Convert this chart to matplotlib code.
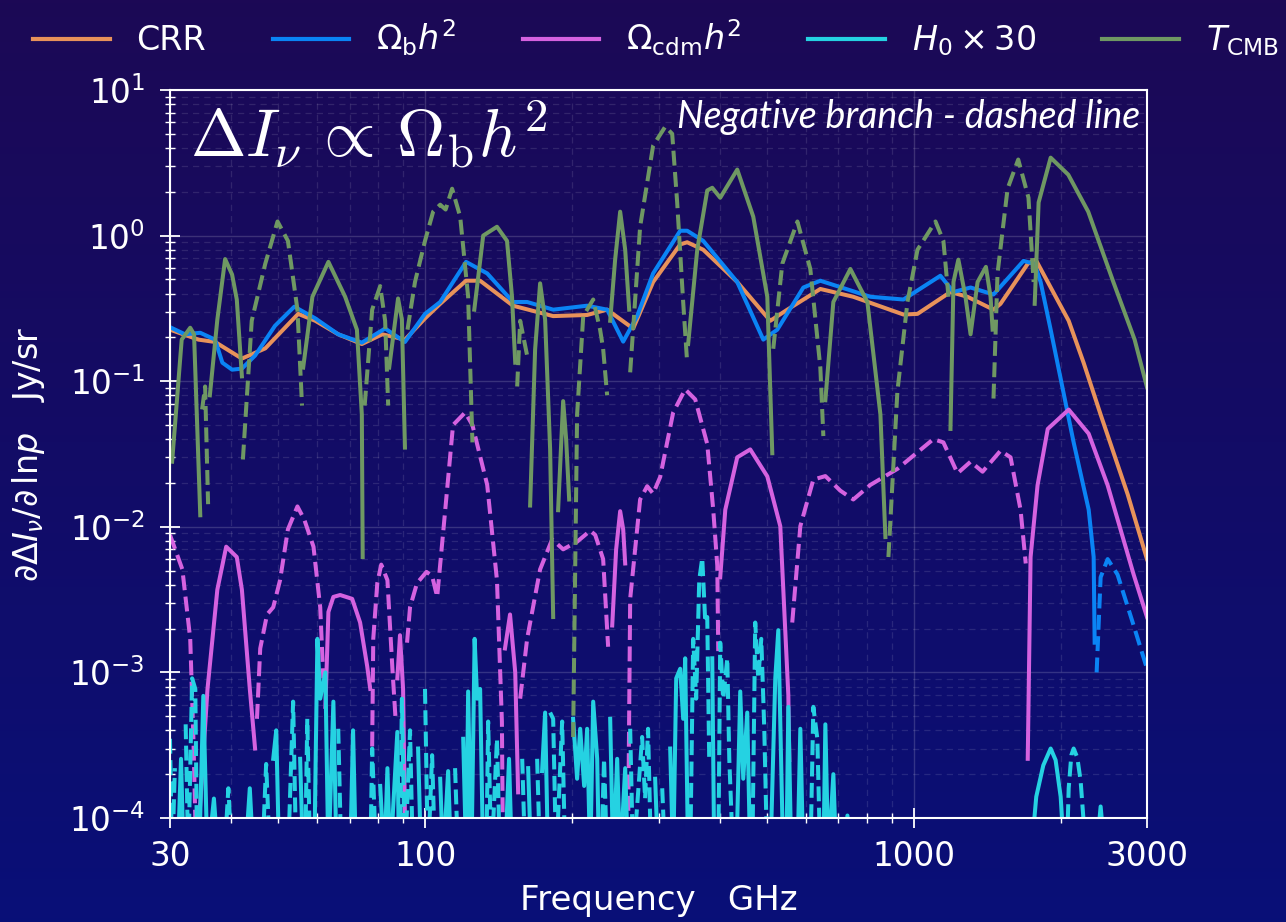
import numpy as np
import matplotlib.pyplot as plt
from matplotlib.ticker import LogLocator, NullFormatter
from matplotlib.lines import Line2D

# frequency in GHz, signed dI/dlnp in Jy/sr (negative values -> dashed branch)
crr_freq = [30, 34.3, 37.1, 42.1, 47.0, 54.9, 59.5, 66.3, 74.1, 81.6, 90.8, 99.8, 107.2, 121.1,
            129.4, 151.1, 182.6, 214.3, 235.5, 266.2, 292.5, 332.3, 343.4, 370.4, 434.8, 508.1,
            550.6, 643.3, 751.5, 951.8, 1017, 1188, 1287, 1455, 1504, 1710, 1775, 2074, 2225,
            2411, 2739, 3000]
crr_vals = [0.226, 0.193, 0.186, 0.143, 0.168, 0.29, 0.26, 0.21, 0.18, 0.21, 0.193, 0.27, 0.34,
            0.49, 0.49, 0.33, 0.28, 0.285, 0.31, 0.23, 0.48, 0.87, 0.90, 0.80, 0.48, 0.26, 0.31,
            0.43, 0.38, 0.287, 0.29, 0.41, 0.38, 0.31, 0.34, 0.64, 0.684, 0.26, 0.134, 0.059,
            0.0167, 0.006]

omb_freq = [30, 32.2, 34.6, 37.1, 38.4, 40.2, 42.1, 44.8, 49.2, 53.9, 59.5, 66.3, 74.1, 82.7,
            90.8, 99.8, 107.2, 121.1, 133.8, 151.1, 161.5, 182.6, 214.3, 235.5, 254, 271.3,
            292.5, 332.3, 343.4, 370.4, 434.8, 491.6, 525.2, 593.8, 643.3, 814.5, 951.8, 1133,
            1205, 1306, 1455, 1676, 1766, 1817, 1905, 2123, 2279, 2333, 2344,
            2366, 2411, 2492, 2611, 2817, 3000]
omb_vals = [0.235, 0.21, 0.215, 0.193, 0.134, 0.12, 0.122, 0.15, 0.24, 0.325, 0.27, 0.21, 0.184,
            0.23, 0.186, 0.29, 0.35, 0.66, 0.55, 0.35, 0.35, 0.31, 0.33, 0.31, 0.187, 0.28, 0.55,
            1.08, 1.08, 0.92, 0.48, 0.193, 0.226, 0.44, 0.49, 0.38, 0.364, 0.53, 0.41, 0.44,
            0.394, 0.67, 0.64, 0.48, 0.226, 0.038, 0.0131, 0.0062, 0.0016,
            -0.001, -0.0045, -0.006, -0.0047, -0.0021, -0.00106]

omc_freq = [30.0, 31.8, 33.0, 33.5, 33.8, 34.0,
            34.3, 35.8, 37.5, 39.1, 41.1, 42.1, 43.7, 44.8,
            45.2, 45.9, 47.4, 48.8, 50.4, 52.3, 54.7, 56.5, 59.0, 60.9, 61.8,
            62.4, 63.3, 64.8, 66.9, 70.8, 73.5, 76.0, 77.1,
            77.8, 78.2, 79.7, 81.2, 83.6, 85.6, 86.8,
            87.6, 88.7, 90.0, 90.8,
            91.7, 93.0, 96.1, 100.5, 103.2, 105.7, 108.7, 113.9, 120.6, 124.8, 133.8, 140.1,
            143.4, 144.0,
            145.5, 149.0, 152.7, 154.8,
            156.3, 161.5, 171.7, 181.7, 191.4, 204.4, 217.4, 222.6, 231.1, 236.6,
            241.2, 245.7, 250.4, 254.0, 256.4,
            260.0, 262.5, 275.1, 284.4, 292.5, 302.4, 321.5, 340.2, 356.7, 377.5, 388.3, 395.8,
            397.6,
            401.3, 411, 434.8, 462.3, 501, 532.6, 553.2, 555.8,
            563.5, 585.4, 622.4, 658.7, 707, 751.5, 814.5, 925.2, 1017, 1096, 1149, 1228, 1306,
            1382, 1504, 1577, 1653, 1694,
            1710, 1733, 1791, 1879, 2074, 2279, 2492, 2817, 3000]
omc_vals = [-0.0088, -0.0051, -0.0017, -0.00035, -0.0001, -0.00005,
            0.00008, 0.00077, 0.0037, 0.0073, 0.0062, 0.0037, 0.00077, 0.0003,
            -0.00048, -0.00146, -0.0025, -0.0028, -0.0043, -0.0096, -0.0138, -0.0112, -0.0073,
            -0.0028, -0.00091,
            0.00058, 0.0026, 0.0033, 0.0034, 0.0032, 0.0022, 0.0011, 0.00077,
            -0.00031, -0.0017, -0.0041, -0.0055, -0.0043, -0.00105, -0.0005,
            0.00091, 0.0018, 0.00077, 0.0001,
            -0.0016, -0.0028, -0.0041, -0.0049, -0.0046, -0.0033, -0.0091, -0.05, -0.061, -0.05,
            -0.0194, -0.0043, -0.00046, -0.00008,
            0.00146, 0.0025, 0.001, 0.00015,
            -0.00066, -0.0017, -0.0051, -0.0082, -0.007, -0.0079, -0.0094, -0.0088, -0.006,
            -0.0015,
            0.0021, 0.007, 0.0128, 0.0096, 0.0056,
            -0.00008, -0.0032, -0.0154, -0.019, -0.0169, -0.022, -0.061, -0.088, -0.075, -0.037,
            -0.0131, -0.0054, -0.0014,
            0.0045, 0.0131, 0.03, 0.034, 0.0222, 0.0101, 0.0007, 0.00025,
            -0.0022, -0.0101, -0.0211, -0.0223, -0.0177, -0.0154, -0.0194, -0.025, -0.0325,
            -0.04, -0.038, -0.0233, -0.028, -0.0239, -0.0333, -0.030, -0.0131, -0.0056,
            0.000255, 0.0062, 0.0193, 0.047, 0.0638, 0.0436, 0.0193, 0.0047, 0.0024]

h0_freq = [30.0, 30.3, 30.7, 31.1, 31.6, 32.0, 32.3, 32.7, 33.3, 33.8, 34.1, 34.4, 35.1, 35.8,
           36.9, 37.7, 38.7, 39.5, 40.2, 42.7, 43.7, 44.5, 46.3, 47.2, 48.1, 48.8, 49.5, 50.2,
           52.3, 53.6, 54.4, 55.4, 56.2, 56.7, 57.3, 58.1, 59.2, 60.1, 60.9, 62.4, 63.3, 64.8,
           65.8, 66.3, 67.3, 70.1, 71.1, 72.1, 77.1, 77.8, 79.3, 80.8, 82.4, 83.6, 84.7, 87.6,
           88.3, 88.7, 89.5, 90.8, 93.0, 94.3, 96.6, 98.0, 99.8, 101.2, 103.2, 104.7, 107.2,
           108.7, 111.3, 112.9, 115.0, 116.7, 119.5, 121.2, 122.3, 124.2, 126.1, 127.6, 129.4,
           131.3, 133.2, 134.4, 136.5, 140.1, 142.1, 145.5, 148.3, 150.4, 157.8, 160.1, 162.3,
           164.6, 169.3, 171.7, 173.3, 175.8, 178.3, 180.0, 182.6, 185.2, 190.5, 193.3, 200.6,
           204.4, 207.4, 211.3, 214.3, 217.4, 220.5, 224.7, 226.7, 228.9, 232.1, 235.5, 238.9,
           242.3, 246.9, 250.4, 256.4, 260.0, 262.5, 266.2, 277.7, 281.6, 285.6, 289.8, 295.3,
           299.6, 305.3, 309.7, 317.0, 321.5, 326.1, 332.3, 337.0, 340.2, 345.0, 348.3, 353.3,
           358.3, 363.5, 368.7, 374.0, 377.5, 381.0, 386.5, 390.2, 397.6, 401.3, 407.1, 414.9,
           418.8, 426.8, 432.9, 441.0, 447.3, 455.8, 462.3, 466.7, 473.3, 480.1, 487.0, 493.9,
           501.0, 508.1, 520.2, 527.7, 532.6, 540.2, 548.0, 553.2, 561.2, 577.4, 585.4, 593.8,
           613.6, 622.4, 634.3, 643.3, 652.5, 658.7, 668.1, 684.0, 693.8, 724.0, 730.9, 737.9,
           1733, 1780, 1840, 1905, 1950, 1997, 2035, 2054, 2074, 2100, 2123, 2160, 2194, 2257,
           2355, 2411, 2468]
h0_vals = [-3.5e-4, -5e-5, -2.2e-4, 5e-5, 2.55e-4, 5e-5, -4.4e-4, -5e-5, -9.1e-4, -7.7e-4,
           -5e-5, 5e-5, 6.9e-4, 5e-5, 1.36e-4, 5e-5, -5e-5, -1.6e-4, -5e-5, 5e-5, 1.6e-4, 5e-5,
           -5e-5, -2.35e-4, -5e-5, 2.55e-4, 4.0e-4, 5e-5, -5e-5, -6.3e-4, -5e-5, 2.55e-4, 5e-5,
           -5e-5, -4.8e-4, -5e-5, 5e-5, 1.7e-3, 6.6e-4, 1.0e-3, 5e-5, 6.3e-4, 5e-5, -4.1e-4,
           -5e-5, 5e-5, 4.0e-4, 5e-5, -5e-5, -3.0e-4, -5e-5, 1.66e-4, 5e-5, 2.2e-4, 5e-5,
           3.9e-4, 5e-5, -5e-5, -6.6e-4, -5e-5, -4.0e-4, -5e-5, 3.0e-4, 5e-5, -7.7e-4, -5e-5,
           -2.7e-4, -5e-5, 1.86e-4, 5e-5, 2.1e-4, 5e-5, -2.2e-4, -5e-5, 3.5e-4, 5e-5, 7.4e-4,
           5e-5, 1.7e-3, 6.6e-4, 7.7e-4, 5e-5, -5e-5, -4.6e-4, -5e-5, -3.5e-4, -5e-5, 5e-5,
           2.55e-4, 5e-5, -2.55e-4, -5e-5, 2.2e-4, 5e-5, -2.55e-4, -5e-5, 2.1e-4, 5.3e-4, 5e-5,
           -5.3e-4, -4.8e-4, -5e-5, -4.6e-4, -5e-5, 4.8e-4, 1.86e-4, 4.1e-4, 1.66e-4, 4.1e-4,
           5e-5, 6.3e-4, 2.55e-4, 5e-5, -5e-5, -2.55e-4, -5e-5, 4.8e-4, 5e-5, 2.55e-4, 5e-5,
           2.2e-4, 5e-5, -4.1e-4, -5e-5, -3.6e-4, -1.36e-4, -4.1e-4, -5e-5, 1.86e-4, 5e-5,
           -1.6e-4, -5e-5, 3.0e-4, 5e-5, 9.1e-4, 1.06e-3, 4.8e-4, 1.25e-3, 5e-5, -5e-5, -1.7e-3,
           -6.6e-4, -4.3e-3, -6.1e-3, -2.2e-3, -2.4e-3, -2.55e-4, 1.25e-3, 5e-5, -5e-5, -1.6e-3,
           -6.6e-4, -1.25e-3, -2.55e-4, -5e-5, 5e-5, 7.4e-4, 1.86e-4, 5.3e-4, 5e-5, -5e-5,
           -2.2e-3, -9.1e-4, -1.7e-3, -4.1e-4, -5e-5, 5e-5, 9.1e-4, 1.95e-3, 4.6e-4, 5e-5, 5e-5,
           5.8e-4, 5e-5, 5e-5, 4.1e-4, 5e-5, -5e-5, -5.8e-4, -3.5e-4, -5e-5, 5e-5, 4.4e-4, 5e-5,
           2.0e-4, 5e-5, 5e-5, 1.04e-4, 5e-5,
           5e-5, 1.4e-4, 2.3e-4, 3.0e-4, 2.5e-4, 1.4e-4, 5e-5, -5e-5, -1.6e-4, -2.7e-4, -3.0e-4,
           -2.6e-4, -1.8e-4, -5e-5, 5e-5, 1.2e-4, 5e-5]

tcmb_freq = [30.3, 31.7, 33.0, 33.6, 34.6,
             34.9, 35.4, 35.9,
             36.2, 37.5, 38.9, 40.2, 41.1, 42.1,
             42.3, 44.1, 47.0, 49.8, 52.3, 54.7, 55.9,
             56.2, 58.7, 63.3, 68.5, 72.4, 74.1, 74.4,
             75.1, 77.8, 80.8, 82.7, 83.9,
             84.3, 87.9, 89.5, 90.8,
             91.9, 95.2, 99.8, 103.7, 107.2, 110.0, 113.4, 117.8, 122.3, 124.8,
             125.9, 131.3, 140.1, 146.9, 150.4, 152.7,
             154.1, 156.3, 161.5,
             163.8, 167.7, 171.7, 175.8, 180.0, 182.6,
             184.3,
             186.9, 191.4, 194.1, 196.9,
             200.6, 204.4, 210.4, 220.5, 227.8, 231.1, 235.5,
             238.9, 244.5, 250.4, 256.4, 261.3,
             262.5, 275.1, 292.5, 309.7, 320.0, 327.6, 337.0, 343.4,
             345.0, 360.1, 377.5, 386.5, 401.3, 434.8, 468.9, 501.0, 512.9,
             515.3, 537.7, 577.4, 613.6, 643.3, 652.5,
             658.7, 684.0, 741.1, 803.0, 853.9, 874.2,
             886.7, 925.0, 970.0, 1017, 1107, 1149, 1177,
             1188, 1205, 1233, 1275, 1306, 1350, 1404, 1435, 1449,
             1455, 1483, 1555, 1635, 1716, 1758,
             1767, 1800, 1905, 2070, 2274, 2560, 2830, 3000]
tcmb_vals = [0.028, 0.193, 0.233, 0.21, 0.012,
             -0.064, -0.092, -0.0143,
             0.08, 0.265, 0.69, 0.54, 0.364, 0.108,
             -0.029, -0.26, -0.64, -1.25, -0.92, -0.31, -0.068,
             0.124, 0.38, 0.66, 0.38, 0.226, 0.059, 0.0062,
             -0.068, -0.31, -0.45, -0.26, -0.068,
             0.124, 0.37, 0.265, 0.035,
             -0.226, -0.48, -0.92, -1.46, -1.63, -1.51, -2.1, -1.35, -0.38, -0.038,
             0.31, 1.0, 1.15, 0.92, 0.38, 0.134,
             -0.092, -0.26, -0.15,
             0.014, 0.165, 0.47, 0.265, 0.034, 0.0024,
             -0.001,
             0.013, 0.073, 0.04, 0.0154,
             -0.00036, -0.059, -0.28, -0.364, -0.226, -0.167, -0.08,
             0.26, 0.68, 1.46, 0.8, 0.31,
             -0.115, -1.15, -4.15, -5.6, -5.0, -1.69, -0.35, -0.134,
             0.18, 0.8, 2.04, 2.13, 1.82, 2.84, 1.35, 0.38, 0.032,
             -0.167, -0.64, -1.25, -0.59, -0.124, -0.042,
             0.074, 0.35, 0.59, 0.35, 0.059, 0.0085,
             -0.0062, -0.085, -0.35, -0.80, -1.25, -0.92, -0.38,
             0.047, 0.48, 0.684, 0.38, 0.21, 0.48, 0.61, 0.38, 0.226,
             -0.076, -0.55, -2.1, -3.33, -1.82, -0.48,
             0.34, 1.69, 3.43, 2.62, 1.46, 0.48, 0.193, 0.091]

series = [
    ('CRR', crr_freq, crr_vals, '#e8925a'),
    (r'$\Omega_\mathrm{b}h^2$', omb_freq, omb_vals, '#0a84f5'),
    (r'$\Omega_\mathrm{cdm}h^2$', omc_freq, omc_vals, '#d562e0'),
    (r'$H_0\times 30$', h0_freq, h0_vals, '#25d2e2'),
    (r'$T_\mathrm{CMB}$', tcmb_freq, tcmb_vals, '#6f9863'),
]

plt.rcParams['mathtext.fontset'] = 'dejavusans'

fig = plt.figure(figsize=(12.86, 9.22), dpi=100)

# background gradient, purple at the top to blue at the bottom
bg = fig.add_axes([0, 0, 1, 1], zorder=-1)
top = np.array([0.11, 0.035, 0.335])
bot = np.array([0.035, 0.06, 0.47])
t = np.linspace(0, 1, 256)[:, None]
grad = (top[None, :] * (1 - t) + bot[None, :] * t)[:, None, :]
bg.imshow(grad, aspect='auto', extent=[0, 1, 0, 1])
bg.axis('off')

ax = fig.add_axes([170/1286, 1-818/922, 977/1286, 728/922])
ax.set_facecolor('none')


def plot_branches(ax, freq, vals, color):
    freq = np.asarray(freq, dtype=float)
    vals = np.asarray(vals, dtype=float)
    breaks = np.where(np.diff(np.sign(vals)) != 0)[0] + 1
    for f, v in zip(np.split(freq, breaks), np.split(vals, breaks)):
        ls = '-' if v[0] > 0 else '--'
        ax.plot(f, np.abs(v), ls=ls, color=color, lw=2.9)


handles = []
for label, f, v, c in series:
    plot_branches(ax, f, v, c)
    handles.append(Line2D([], [], color=c, lw=3.0, label=label))

ax.set_xscale('log')
ax.set_yscale('log')
ax.set_xlim(30, 3000)
ax.set_ylim(1e-4, 10)
ax.set_xticks([30, 100, 1000, 3000])
ax.set_xticklabels(['30', '100', '1000', '3000'])
ax.xaxis.set_minor_locator(LogLocator(base=10, subs=np.arange(2, 10), numticks=20))
ax.xaxis.set_minor_formatter(NullFormatter())
ax.yaxis.set_major_locator(LogLocator(base=10, numticks=10))
ax.yaxis.set_minor_locator(LogLocator(base=10, subs=np.arange(2, 10), numticks=20))
ax.yaxis.set_minor_formatter(NullFormatter())

ax.tick_params(which='major', direction='inout', length=14, width=1.3, colors='white',
               labelsize=23.5)
ax.tick_params(which='minor', direction='inout', length=7, width=1.0, colors='white')
ax.tick_params(axis='x', which='major', pad=9)
ax.tick_params(axis='y', which='major', pad=11)
for sp in ax.spines.values():
    sp.set_color('white')
    sp.set_linewidth(1.5)

ax.grid(which='major', color='white', alpha=0.16, lw=1.0, ls='-')
ax.grid(which='minor', color='white', alpha=0.11, lw=0.9, ls=(0, (5, 4)))

ax.set_xlabel('Frequency   GHz', color='white', fontsize=24.5, labelpad=8)
ax.set_ylabel(r'$\partial\Delta I_\nu/\partial\,\mathrm{ln}p$   Jy/sr', color='white',
              fontsize=24, labelpad=16)

ax.text(0.02, 0.988, r'$\Delta I_\nu \,\propto\, \Omega_\mathrm{b} h^2$', transform=ax.transAxes,
        fontsize=48, color='white', va='top', ha='left', math_fontfamily='cm')
ax.text(0.993, 0.948, 'Negative branch - dashed line', transform=ax.transAxes,
        fontsize=27, color='white', ha='right', va='baseline', style='italic', family='Lato')

fig.legend(handles=handles, loc='center', bbox_to_anchor=(0.51, 0.959), ncol=5,
           frameon=False, fontsize=24, labelcolor='white', handlelength=2.3,
           handletextpad=0.8, columnspacing=2.0)

fig.savefig('out.png', dpi=100)
